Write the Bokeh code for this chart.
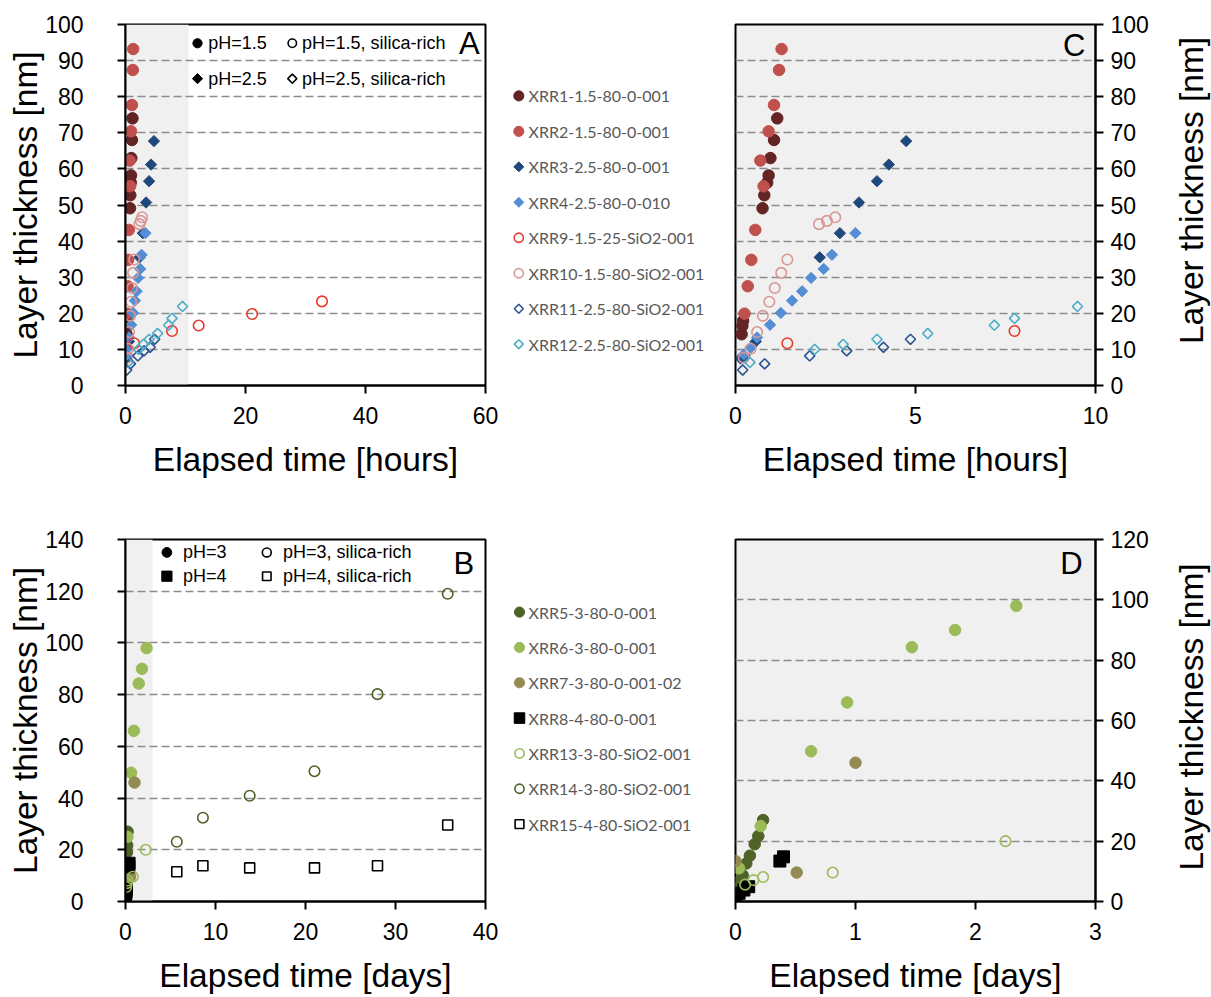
import math
from bokeh.plotting import figure
from bokeh.layouts import row, column
from bokeh.models import Range1d, FixedTicker, BoxAnnotation
from bokeh.core.properties import value
from bokeh.embed import file_html
from bokeh.resources import INLINE

AX_FONT = "Liberation Sans"
TITLE_SIZE = "33.5px"

# ---------------- data: hours (panels A and C) ----------------
xrr1_h = [0.17, 0.19, 0.21, 0.75, 0.80, 0.88, 0.92, 0.97, 1.07, 1.16]
xrr1_nm = [14.2, 16.5, 17.9, 49.1, 52.7, 56.2, 58.2, 63.0, 68.0, 74.0]
xrr2_h = [0.25, 0.34, 0.44, 0.55, 0.78, 0.69, 0.92, 1.07, 1.21, 1.28]
xrr2_nm = [19.9, 27.5, 34.8, 43.1, 55.2, 62.3, 70.4, 77.7, 87.4, 93.2]
xrr3_h = [0.14, 0.25, 0.56, 2.34, 2.90, 3.43, 3.93, 4.26, 4.74]
xrr3_nm = [7.5, 8.3, 12.2, 35.5, 42.2, 50.7, 56.6, 61.2, 67.7]
xrr4_h = [0.23, 0.42, 0.60, 0.96, 1.26, 1.57, 1.85, 2.10, 2.45, 2.68, 3.33]
xrr4_nm = [8.6, 10.5, 13.3, 16.8, 20.1, 23.5, 26.1, 29.8, 32.3, 36.2, 42.2]
xrr9_h = [1.44, 7.75, 12.2, 21.1, 32.75]
xrr9_nm = [11.7, 15.1, 16.6, 19.8, 23.3]
xrr10_h = [0.23, 0.42, 0.60, 0.76, 0.94, 1.09, 1.27, 1.44, 2.32, 2.54, 2.77]
xrr10_nm = [7.7, 10.2, 14.8, 19.3, 23.2, 27.0, 31.2, 34.9, 44.7, 45.6, 46.6]
xrr11_h = [0.20, 0.81, 2.06, 3.09, 4.11, 4.86]
xrr11_nm = [4.3, 6.0, 8.2, 9.6, 10.6, 12.8]
xrr12_h = [0.40, 2.20, 2.99, 3.93, 5.34, 7.19, 7.75, 9.50]
xrr12_nm = [6.4, 10.0, 11.4, 12.8, 14.4, 16.7, 18.6, 21.9]

# ---------------- data: days (panels B and D) ----------------
xrr5_d = [0.0, 0.03, 0.06, 0.09, 0.12, 0.16, 0.19, 0.23]
xrr5_nm = [4.3, 6.5, 8.7, 12.6, 15.2, 19.0, 21.7, 27.0]
xrr6_d = [0.03, 0.21, 0.63, 0.93, 1.47, 1.83, 2.34]
xrr6_nm = [11.0, 25.0, 49.8, 66.0, 84.3, 90.0, 98.0]
xrr7_d = [0.0, 0.51, 1.00]
xrr7_nm = [13.4, 9.6, 46.0]
xrr8_d = [0.0, 0.03, 0.07, 0.11, 0.37, 0.40]
xrr8_nm = [2.1, 2.7, 3.8, 4.9, 13.4, 14.8]
xrr13_d = [0.08, 0.15, 0.23, 0.81, 2.25]
xrr13_nm = [5.6, 7.1, 8.1, 9.6, 20.0]
xrr14_d = [5.7, 8.6, 13.8, 21.0, 28.0, 35.8]
xrr14_nm = [23.1, 32.4, 40.9, 50.4, 80.2, 119.0]
xrr15_d = [5.7, 8.6, 13.8, 21.0, 28.0, 35.8]
xrr15_nm = [11.5, 13.8, 13.0, 13.0, 13.8, 29.6]

names_hours = ["XRR1-1.5-80-0-001", "XRR2-1.5-80-0-001", "XRR3-2.5-80-0-001",
               "XRR4-2.5-80-0-010", "XRR9-1.5-25-SiO2-001", "XRR10-1.5-80-SiO2-001",
               "XRR11-2.5-80-SiO2-001", "XRR12-2.5-80-SiO2-001"]
names_days = ["XRR5-3-80-0-001", "XRR6-3-80-0-001", "XRR7-3-80-0-001-02",
              "XRR8-4-80-0-001", "XRR13-3-80-SiO2-001", "XRR14-3-80-SiO2-001",
              "XRR15-4-80-SiO2-001"]

hours_ticks_A = [0, 20, 40, 60]
hours_ticks_C = [0, 5, 10]
nm_ticks_AC = list(range(0, 101, 10))
days_ticks_B = [0, 10, 20, 30, 40]
days_ticks_D = [0, 1, 2, 3]
nm_ticks_B = list(range(0, 141, 20))
nm_ticks_D = list(range(0, 121, 20))

Y_TITLE = "Layer thickness [nm]"

# styles: (marker, color, filled)
hours_series = [
    (xrr1_h, xrr1_nm, "circle", "#632523", True),
    (xrr2_h, xrr2_nm, "circle", "#C0504D", True),
    (xrr3_h, xrr3_nm, "diamond", "#1F497D", True),
    (xrr4_h, xrr4_nm, "diamond", "#558ED5", True),
    (xrr9_h, xrr9_nm, "circle", "#E8392B", False),
    (xrr10_h, xrr10_nm, "circle", "#DA9694", False),
    (xrr11_h, xrr11_nm, "diamond", "#2C5491", False),
    (xrr12_h, xrr12_nm, "diamond", "#4BACC6", False),
]
days_series = [
    (xrr5_d, xrr5_nm, "circle", "#4F6228", True),
    (xrr6_d, xrr6_nm, "circle", "#9BBB59", True),
    (xrr7_d, xrr7_nm, "circle", "#948A54", True),
    (xrr8_d, xrr8_nm, "square", "#000000", True),
    (xrr13_d, xrr13_nm, "circle", "#9BBB59", False),
    (xrr14_d, xrr14_nm, "circle", "#4F6228", False),
    (xrr15_d, xrr15_nm, "square", "#000000", False),
]


def draw_marker(p, xs, ys, marker, color, filled, scale=1.0):
    kw = dict(line_color=color)
    if filled:
        kw["fill_color"] = color
        kw["line_width"] = 1
    else:
        kw["fill_color"] = None
        kw["line_width"] = 1.6
    if marker == "diamond":
        p.scatter(xs, ys, marker="square", angle=math.pi / 4,
                  size=(8.0 if filled else 7.2) * scale, **kw)
    elif marker == "square":
        p.scatter(xs, ys, marker="square", size=(12 if filled else 10) * scale, **kw)
    else:
        p.scatter(xs, ys, marker="circle", size=(11.5 if filled else 10.5) * scale, **kw)


def make_panel(xr, yr, xticks, yticks, xlabel, side, frame_h, top_b, bottom_b,
               left_b, right_b, full_bg, shade_right):
    p = figure(x_range=Range1d(*xr), y_range=Range1d(*yr),
               frame_width=360, frame_height=frame_h,
               min_border_left=left_b, min_border_right=right_b,
               min_border_top=top_b, min_border_bottom=bottom_b,
               y_axis_location=side, toolbar_location=None,
               output_backend="svg", title=None)
    p.background_fill_color = "#F0F0F0" if full_bg else "white"
    p.border_fill_color = "white"
    p.outline_line_color = "black"
    p.outline_line_width = 2
    if shade_right is not None:
        p.add_layout(BoxAnnotation(left=0, right=shade_right, fill_color="#F0F0F0",
                                   fill_alpha=1, line_color=None, level="image"))
    p.xaxis.ticker = FixedTicker(ticks=xticks)
    p.yaxis.ticker = FixedTicker(ticks=yticks)
    p.xaxis.axis_label = xlabel
    for ax in p.axis:
        ax.axis_line_width = 2
        ax.axis_line_color = "black"
        ax.major_tick_line_width = 2
        ax.major_tick_out = 8
        ax.major_tick_in = 0
        ax.minor_tick_line_color = None
        ax.major_label_text_font = AX_FONT
        ax.major_label_text_font_size = "23px"
        ax.major_label_text_color = "black"
        ax.axis_label_text_font = AX_FONT
        ax.axis_label_text_font_size = TITLE_SIZE
        ax.axis_label_text_font_style = "normal"
        ax.axis_label_text_color = "black"
    p.xaxis.major_label_standoff = 13
    p.xaxis.axis_label_standoff = 14
    if side == "left":
        p.yaxis.axis_label = Y_TITLE
        p.yaxis.major_label_standoff = 34
        p.yaxis.axis_label_standoff = -2
    else:
        p.yaxis.major_label_standoff = 7
    p.xgrid.grid_line_color = None
    p.ygrid.grid_line_color = "#8C8C8C"
    p.ygrid.grid_line_dash = "8 4"
    p.ygrid.grid_line_width = 1.5
    return p


def add_text(p, x, y, t, size, align="left", color="black", font=AX_FONT, angle=0.0):
    p.text(x=[x], y=[y], text=[t], text_font=value(font), text_font_size=size,
           text_color=color, text_align=align, text_baseline="middle", angle=angle)


def blank_figure(width, height):
    f = figure(x_range=Range1d(0, width), y_range=Range1d(height, 0),
               frame_width=width, frame_height=height, min_border=0,
               x_axis_location=None, y_axis_location=None,
               toolbar_location=None, output_backend="svg", title=None)
    f.outline_line_color = None
    f.xgrid.visible = False
    f.ygrid.visible = False
    return f


# ---------------- panel A ----------------
pA = make_panel((0, 60), (0, 100), hours_ticks_A, nm_ticks_AC, "Elapsed time [hours]",
                "left", 361, 24, 140, 125, 15, False, 10.5)
for xs, ys, m, c, f in hours_series:
    draw_marker(pA, xs, ys, m, c, f)
draw_marker(pA, [12.0], [94.8], "circle", "black", True, 0.8)
draw_marker(pA, [27.8], [94.8], "circle", "black", False, 0.8)
draw_marker(pA, [12.0], [85.0], "diamond", "black", True, 0.9)
draw_marker(pA, [27.8], [85.0], "diamond", "black", False, 0.9)
add_text(pA, 13.8, 94.8, "pH=1.5", "18px")
add_text(pA, 29.4, 94.8, "pH=1.5, silica-rich", "18px")
add_text(pA, 13.8, 85.0, "pH=2.5", "18px")
add_text(pA, 29.4, 85.0, "pH=2.5, silica-rich", "18px")
add_text(pA, 57.3, 94.6, "A", "31px", align="center")

# ---------------- panel C ----------------
pC = make_panel((0, 10), (0, 100), hours_ticks_C, nm_ticks_AC, "Elapsed time [hours]",
                "right", 361, 24, 140, 15, 70, True, None)
for xs, ys, m, c, f in hours_series:
    draw_marker(pC, xs, ys, m, c, f)
add_text(pC, 9.41, 94.2, "C", "31px", align="center")

# ---------------- panel B ----------------
pB = make_panel((0, 40), (0, 140), days_ticks_B, nm_ticks_B, "Elapsed time [days]",
                "left", 362, 14, 96, 125, 15, False, 3.0)
for xs, ys, m, c, f in days_series:
    draw_marker(pB, xs, ys, m, c, f)
draw_marker(pB, [4.6], [135.0], "circle", "black", True, 0.85)
draw_marker(pB, [15.7], [135.0], "circle", "black", False, 0.85)
draw_marker(pB, [4.6], [125.8], "square", "black", True, 0.85)
draw_marker(pB, [15.7], [125.8], "square", "black", False, 0.85)
add_text(pB, 6.4, 135.0, "pH=3", "18px")
add_text(pB, 17.5, 135.0, "pH=3, silica-rich", "18px")
add_text(pB, 6.4, 125.8, "pH=4", "18px")
add_text(pB, 17.5, 125.8, "pH=4, silica-rich", "18px")
add_text(pB, 37.6, 130.7, "B", "31px", align="center")

# ---------------- panel D ----------------
pD = make_panel((0, 3), (0, 120), days_ticks_D, nm_ticks_D, "Elapsed time [days]",
                "right", 362, 14, 96, 15, 70, True, None)
for xs, ys, m, c, f in days_series:
    draw_marker(pD, xs, ys, m, c, f)
add_text(pD, 2.80, 112.1, "D", "31px", align="center")


# ---------------- legends ----------------
def make_legend(height, series, names, y0, dy, mx, tx):
    lg = blank_figure(220, height)
    for i, (s, nm) in enumerate(zip(series, names)):
        _, _, m, c, f = s
        yy = y0 + i * dy
        draw_marker(lg, [mx], [yy], m, c, f, 0.88)
        add_text(lg, tx, yy, nm, "16px", color="#595959", font="Lato")
    return lg


lgA = make_legend(525, hours_series, names_hours, 71.4, 35.47, 18.3, 28.0)
lgB = make_legend(472, days_series, names_days, 72.6, 35.33, 19.0, 28.0)

# right-hand axis titles (reading bottom-to-top)
tC = blank_figure(46, 525)
add_text(tC, 26, 166.0, Y_TITLE, TITLE_SIZE, align="center", angle=math.pi / 2)
tD = blank_figure(46, 472)
add_text(tD, 26, 177.5, Y_TITLE, TITLE_SIZE, align="center", angle=math.pi / 2)

layout = column(row(pA, lgA, pC, tC), row(pB, lgB, pD, tD))
open("out.html", "w").write(file_html(layout, INLINE))
